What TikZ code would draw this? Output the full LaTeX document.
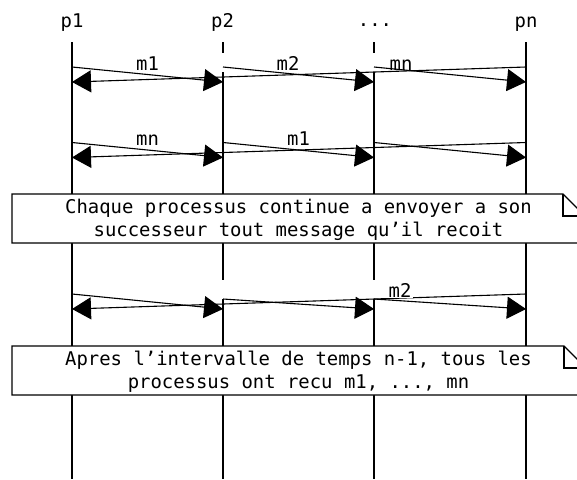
\documentclass[tikz,border=0pt]{standalone}
\usepackage{fontspec}
\setmonofont{DejaVu Sans Mono}
\usetikzlibrary{arrows.meta}
\begin{document}
\begin{tikzpicture}[x=1pt,y=-1pt,
  txt/.style={font=\ttfamily\fontsize{18.9}{22}\selectfont, anchor=base, inner sep=0pt},
  lbl/.style={txt, inner sep=1.2pt},
  lblw/.style={lbl, fill=white},
  life/.style={line width=1.2pt},
  msg/.style={line width=1.1pt, -{Triangle[length=19pt,width=22pt]}},
  notebox/.style={line width=1.2pt, fill=white}]
\useasboundingbox (0,0) rectangle (577,479);
\clip (0,0) rectangle (577,479);
% headers
\node[txt] (h1) at (72,27.7) {p1};
\node[txt] (h2) at (222.5,27.7) {p2};
\node[txt] (h3) at (375,26) {...};
\node[txt] (hn) at (526,27.7) {pn};
% lifeline coordinates
\coordinate (l1t) at (72,42);   \coordinate (l1b) at (72,479);
\coordinate (l2a) at (223,42);  \coordinate (l2b) at (223,53);
\coordinate (l2c) at (223,72);  \coordinate (l2d) at (223,280);
\coordinate (l2e) at (223,299); \coordinate (l2f) at (223,479);
\coordinate (l3a) at (374,42);  \coordinate (l3b) at (374,53);
\coordinate (l3c) at (374,72);  \coordinate (l3d) at (374,280);
\coordinate (l3e) at (374,299); \coordinate (l3f) at (374,479);
\coordinate (lnt) at (526,42);  \coordinate (lnb) at (526,479);
\draw[life] (l1t) -- (l1b);
\draw[life] (l2a) -- (l2b) (l2c) -- (l2d) (l2e) -- (l2f);
\draw[life] (l3a) -- (l3b) (l3c) -- (l3d) (l3e) -- (l3f);
\draw[life] (lnt) -- (lnb);
% row 1
\coordinate (a1s) at (72,67);   \coordinate (a1e) at (223,82);
\coordinate (a2s) at (223,67);  \coordinate (a2e) at (374,82);
\coordinate (a3s) at (374,67);  \coordinate (a3e) at (526,82);
\coordinate (a4s) at (526,67);  \coordinate (a4e) at (72,82);
\draw[msg] (a1s) -- (a1e);
\draw[msg] (a2s) -- (a2e);
\draw[msg] (a3s) -- (a3e);
\draw[msg] (a4s) -- (a4e);
\node[lbl] (r1m1) at (147.5,70.5) {m1};
\node[lbl] (r1m2) at (288,70.5) {m2};
\node[lbl] (r1mn) at (401,70.5) {mn};
% row 2
\coordinate (b1s) at (72,142.5);   \coordinate (b1e) at (223,157.5);
\coordinate (b2s) at (223,142.5);  \coordinate (b2e) at (374,157.5);
\coordinate (b3s) at (374,142.5);  \coordinate (b3e) at (526,157.5);
\coordinate (b4s) at (526,142.5);  \coordinate (b4e) at (72,157.5);
\draw[msg] (b1s) -- (b1e);
\draw[msg] (b2s) -- (b2e);
\draw[msg] (b3s) -- (b3e);
\draw[msg] (b4s) -- (b4e);
\node[lbl] (r2mn) at (147.5,145.5) {mn};
\node[lbl] (r2m1) at (298.5,145.5) {m1};
% note 1
\draw[notebox] (12,194) -- (563,194) -- (585,216) -- (585,243) -- (12,243) -- cycle;
\draw[line width=1.2pt] (563,194) -- (563,216) -- (585,216);
\node[txt] (n1a) at (298.5,213.5) {Chaque processus continue a envoyer a son};
\node[txt] (n1b) at (298.5,236.8) {successeur tout message qu’il recoit};
% row 3
\coordinate (c1s) at (72,294);   \coordinate (c1e) at (223,309);
\coordinate (c2s) at (223,299);  \coordinate (c2e) at (374,309);
\coordinate (c3s) at (374,299);  \coordinate (c3e) at (526,309);
\coordinate (c4s) at (526,294);  \coordinate (c4e) at (72,309);
\draw[msg] (c1s) -- (c1e);
\draw[msg] (c2s) -- (c2e);
\draw[msg] (c3s) -- (c3e);
\draw[msg] (c4s) -- (c4e);
\node[lblw] (r3m2) at (400,297) {m2};
% note 2
\draw[notebox] (12,346) -- (564,346) -- (586,368) -- (586,395) -- (12,395) -- cycle;
\draw[line width=1.2pt] (564,346) -- (564,368) -- (586,368);
\node[txt] (n2a) at (298.5,365) {Apres l’intervalle de temps n-1, tous les};
\node[txt] (n2b) at (298.5,388.5) {processus ont recu m1, ..., mn};
\end{tikzpicture}
\end{document}
